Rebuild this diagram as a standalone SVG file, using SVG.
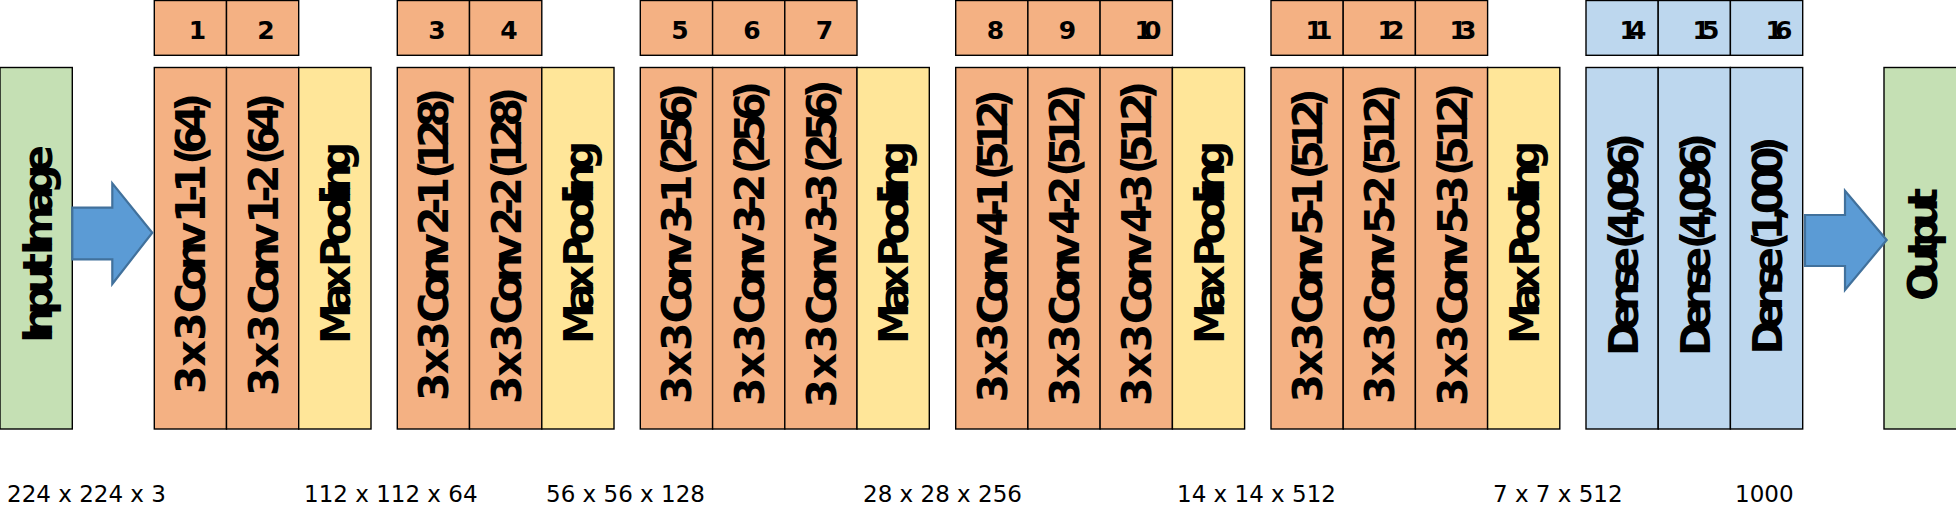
<svg xmlns="http://www.w3.org/2000/svg" width="1956" height="511" viewBox="0 0 1956 511">
<style>
.c{fill:#F4B183;stroke:#000;stroke-width:1.4}
.p{fill:#FFE699;stroke:#000;stroke-width:1.4}
.d{fill:#BDD7EE;stroke:#000;stroke-width:1.4}
.g{fill:#C5E0B4;stroke:#000;stroke-width:1.4}
.v{font-family:"DejaVu Sans",Verdana,sans-serif;font-weight:bold;font-size:41px;fill:#000}
.n{font-family:"DejaVu Sans",Verdana,sans-serif;font-weight:bold;font-size:25px;fill:#000;text-anchor:middle}
.nn{letter-spacing:-8px}
.b{font-family:"DejaVu Sans",Verdana,sans-serif;font-size:23px;fill:#000}
.a{fill:#5B9BD5;stroke:#41719C;stroke-width:2.2;stroke-linejoin:miter}
</style>
<rect width="1956" height="511" fill="#fff"/>

<g id="input">
<rect class="g" x="0" y="67.5" width="72.3" height="361.5"/>
<text class="v" transform="translate(51.5,343) rotate(-90)" textLength="198" lengthAdjust="spacing">Input Image</text>
</g>

<g id="conv1_1">
<rect class="c" x="154.3" y="0.5" width="72.2" height="54.8"/>
<text class="n" x="197.5" y="38.5">1</text>
<rect class="c" x="154.3" y="67.5" width="72.2" height="361.5"/>
<text class="v" transform="translate(205.4,394) rotate(-90)" textLength="301" lengthAdjust="spacing">3 x 3 Conv 1-1 (64)</text>
</g>
<g id="conv1_2">
<rect class="c" x="226.5" y="0.5" width="72.2" height="54.8"/>
<text class="n" x="266" y="38.5">2</text>
<rect class="c" x="226.5" y="67.5" width="72.2" height="361.5"/>
<text class="v" transform="translate(277.6,396) rotate(-90)" textLength="303" lengthAdjust="spacing">3 x 3 Conv 1-2 (64)</text>
</g>
<g id="pool1">
<rect class="p" x="298.7" y="67.5" width="72.3" height="361.5"/>
<text class="v" transform="translate(349.9,344) rotate(-90)" textLength="202" lengthAdjust="spacing">Max Pooling</text>
</g>

<g id="conv2_1">
<rect class="c" x="397.3" y="0.5" width="72.2" height="54.8"/>
<text class="n" x="437" y="38.5">3</text>
<rect class="c" x="397.3" y="67.5" width="72.2" height="361.5"/>
<text class="v" transform="translate(448.4,401) rotate(-90)" textLength="313" lengthAdjust="spacing">3 x 3 Conv 2-1 (128)</text>
</g>
<g id="conv2_2">
<rect class="c" x="469.5" y="0.5" width="72.3" height="54.8"/>
<text class="n" x="509" y="38.5">4</text>
<rect class="c" x="469.5" y="67.5" width="72.3" height="361.5"/>
<text class="v" transform="translate(520.6,404) rotate(-90)" textLength="317" lengthAdjust="spacing">3 x 3 Conv 2-2 (128)</text>
</g>
<g id="pool2">
<rect class="p" x="541.8" y="67.5" width="72.2" height="361.5"/>
<text class="v" transform="translate(592.9,344) rotate(-90)" textLength="203" lengthAdjust="spacing">Max Pooling</text>
</g>

<g id="conv3_1">
<rect class="c" x="640.3" y="0.5" width="72.3" height="54.8"/>
<text class="n" x="680" y="38.5">5</text>
<rect class="c" x="640.3" y="67.5" width="72.3" height="361.5"/>
<text class="v" transform="translate(691.4,404) rotate(-90)" textLength="321" lengthAdjust="spacing">3 x 3 Conv 3-1 (256)</text>
</g>
<g id="conv3_2">
<rect class="c" x="712.6" y="0.5" width="72.2" height="54.8"/>
<text class="n" x="752" y="38.5">6</text>
<rect class="c" x="712.6" y="67.5" width="72.2" height="361.5"/>
<text class="v" transform="translate(763.7,406) rotate(-90)" textLength="325" lengthAdjust="spacing">3 x 3 Conv 3-2 (256)</text>
</g>
<g id="conv3_3">
<rect class="c" x="784.8" y="0.5" width="72.2" height="54.8"/>
<text class="n" x="824.5" y="38.5">7</text>
<rect class="c" x="784.8" y="67.5" width="72.2" height="361.5"/>
<text class="v" transform="translate(835.9,407.5) rotate(-90)" textLength="328" lengthAdjust="spacing">3 x 3 Conv 3-3 (256)</text>
</g>
<g id="pool3">
<rect class="p" x="857" y="67.5" width="72.3" height="361.5"/>
<text class="v" transform="translate(908.1,344) rotate(-90)" textLength="203" lengthAdjust="spacing">Max Pooling</text>
</g>

<g id="conv4_1">
<rect class="c" x="955.7" y="0.5" width="72.2" height="54.8"/>
<text class="n" x="995.5" y="38.5">8</text>
<rect class="c" x="955.7" y="67.5" width="72.2" height="361.5"/>
<text class="v" transform="translate(1006.8,402.5) rotate(-90)" textLength="313" lengthAdjust="spacing">3 x 3 Conv 4-1 (512)</text>
</g>
<g id="conv4_2">
<rect class="c" x="1027.9" y="0.5" width="72.2" height="54.8"/>
<text class="n" x="1067.5" y="38.5">9</text>
<rect class="c" x="1027.9" y="67.5" width="72.2" height="361.5"/>
<text class="v" transform="translate(1079,406) rotate(-90)" textLength="322" lengthAdjust="spacing">3 x 3 Conv 4-2 (512)</text>
</g>
<g id="conv4_3">
<rect class="c" x="1100.1" y="0.5" width="72.3" height="54.8"/>
<text class="n nn" x="1144" y="38.5">10</text>
<rect class="c" x="1100.1" y="67.5" width="72.3" height="361.5"/>
<text class="v" transform="translate(1151.2,406) rotate(-90)" textLength="325" lengthAdjust="spacing">3 x 3 Conv 4-3 (512)</text>
</g>
<g id="pool4">
<rect class="p" x="1172.4" y="67.5" width="72.2" height="361.5"/>
<text class="v" transform="translate(1223.5,344) rotate(-90)" textLength="203" lengthAdjust="spacing">Max Pooling</text>
</g>

<g id="conv5_1">
<rect class="c" x="1271" y="0.5" width="72.2" height="54.8"/>
<text class="n nn" x="1315" y="38.5">11</text>
<rect class="c" x="1271" y="67.5" width="72.2" height="361.5"/>
<text class="v" transform="translate(1322.1,402.5) rotate(-90)" textLength="314" lengthAdjust="spacing">3 x 3 Conv 5-1 (512)</text>
</g>
<g id="conv5_2">
<rect class="c" x="1343.2" y="0.5" width="72.2" height="54.8"/>
<text class="n nn" x="1387" y="38.5">12</text>
<rect class="c" x="1343.2" y="67.5" width="72.2" height="361.5"/>
<text class="v" transform="translate(1394.3,404) rotate(-90)" textLength="320" lengthAdjust="spacing">3 x 3 Conv 5-2 (512)</text>
</g>
<g id="conv5_3">
<rect class="c" x="1415.4" y="0.5" width="72.2" height="54.8"/>
<text class="n nn" x="1459" y="38.5">13</text>
<rect class="c" x="1415.4" y="67.5" width="72.2" height="361.5"/>
<text class="v" transform="translate(1466.5,406) rotate(-90)" textLength="323" lengthAdjust="spacing">3 x 3 Conv 5-3 (512)</text>
</g>
<g id="pool5">
<rect class="p" x="1487.6" y="67.5" width="72.2" height="361.5"/>
<text class="v" transform="translate(1538.7,344) rotate(-90)" textLength="203" lengthAdjust="spacing">Max Pooling</text>
</g>

<g id="dense1">
<rect class="d" x="1586" y="0.5" width="72.2" height="54.8"/>
<text class="n nn" x="1629" y="38.5">14</text>
<rect class="d" x="1586" y="67.5" width="72.2" height="361.5"/>
<text class="v" transform="translate(1638,356) rotate(-90)" textLength="223" lengthAdjust="spacing">Dense (4,096)</text>
</g>
<g id="dense2">
<rect class="d" x="1658.2" y="0.5" width="72.2" height="54.8"/>
<text class="n nn" x="1702" y="38.5">15</text>
<rect class="d" x="1658.2" y="67.5" width="72.2" height="361.5"/>
<text class="v" transform="translate(1710.2,356) rotate(-90)" textLength="223" lengthAdjust="spacing">Dense (4,096)</text>
</g>
<g id="dense3">
<rect class="d" x="1730.4" y="0.5" width="72.3" height="54.8"/>
<text class="n nn" x="1775" y="38.5">16</text>
<rect class="d" x="1730.4" y="67.5" width="72.3" height="361.5"/>
<text class="v" transform="translate(1782.4,354.5) rotate(-90)" textLength="218" lengthAdjust="spacing">Dense (1,000)</text>
</g>

<g id="output">
<rect class="g" x="1884" y="67.5" width="73" height="361.5"/>
<text class="v" transform="translate(1936.5,301) rotate(-90)" textLength="113" lengthAdjust="spacing">Output</text>
</g>

<g id="connectors">
<polygon class="a" points="72.3,207.7 112.3,207.7 112.3,183.3 152.3,232.7 112.3,284 112.3,259.3 72.3,259.3"/>
<polygon class="a" points="1805,215 1845,215 1845,190.7 1886.7,240 1845,290 1845,266 1805,266"/>
</g>

<g id="dims">
<text class="b" x="7" y="501.5">224 x 224 x 3</text>
<text class="b" x="304" y="501.5">112 x 112 x 64</text>
<text class="b" x="546" y="501.5">56 x 56 x 128</text>
<text class="b" x="863" y="501.5">28 x 28 x 256</text>
<text class="b" x="1177" y="501.5">14 x 14 x 512</text>
<text class="b" x="1493" y="501.5">7 x 7 x 512</text>
<text class="b" x="1735" y="501.5">1000</text>
</g>
</svg>
